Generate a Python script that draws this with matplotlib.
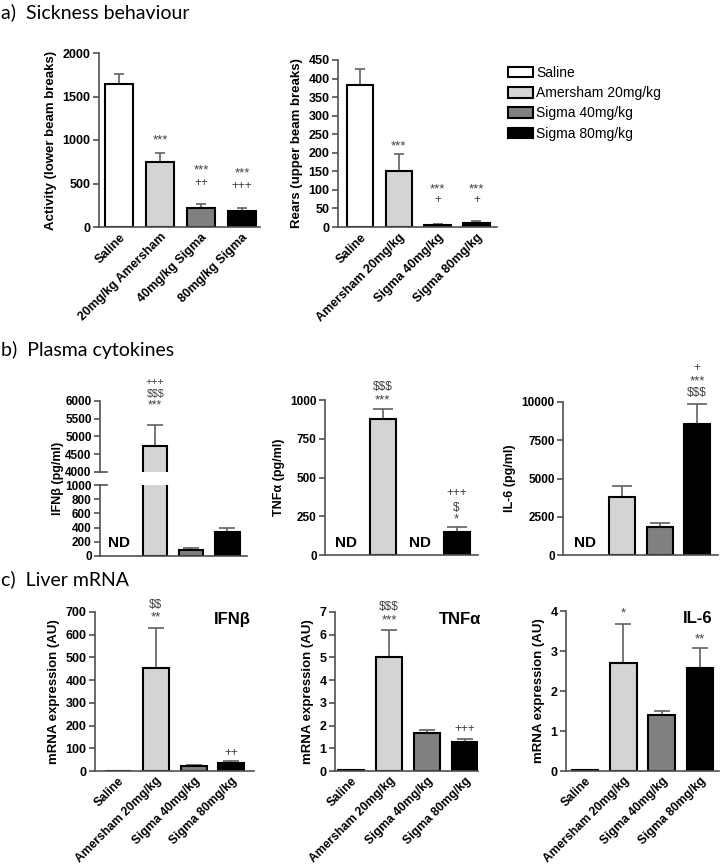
import numpy as np
import matplotlib
matplotlib.use("Agg")
import matplotlib.pyplot as plt
from matplotlib.patches import Patch

plt.rcParams['font.family'] = ['Liberation Sans', 'DejaVu Sans']
plt.rcParams['text.parse_math'] = False

W, H = 720, 866
groups = ['Saline', 'Amersham 20mg/kg', 'Sigma 40mg/kg', 'Sigma 80mg/kg']
groups_a1 = ['Saline', '20mg/kg Amersham', '40mg/kg Sigma', '80mg/kg Sigma']
colors = ['white', '#d4d4d4', '#808080', 'black']

# a) sickness behaviour
activity = [1645, 750, 219, 184]
activity_err = [118, 106, 42, 35]
rears = [382, 151, 6, 12]
rears_err = [45, 47, 3, 3]

# b) plasma cytokines (None = ND)
ifnb_plasma = [None, 4726, 85, 333]
ifnb_plasma_err = [0, 595, 23, 61]
tnfa_plasma = [None, 875, None, 150]
tnfa_plasma_err = [0, 67, 0, 33]
il6_plasma = [None, 3804, 1848, 8543]
il6_plasma_err = [0, 718, 261, 1348]

# c) liver mRNA
ifnb_mrna = [2, 454, 23, 37]
ifnb_mrna_err = [0, 176, 2, 7]
tnfa_mrna = [0.03, 5.02, 1.67, 1.26]
tnfa_mrna_err = [0, 1.17, 0.13, 0.16]
il6_mrna = [0.02, 2.69, 1.39, 2.58]
il6_mrna_err = [0, 0.99, 0.12, 0.5]

# significance marks: (group, y, text)
marks_activity = [(1, 1000, '***'), (2, 655, '***'), (2, 505, '++'), (3, 620, '***'), (3, 470, '+++')]
marks_rears = [(1, 218, '***'), (2, 102, '***'), (2, 73, '+'), (3, 102, '***'), (3, 73, '+')]
marks_ifnb_plasma = [(1, 6545, '+++'), (1, 6190, '$$$'), (1, 5870, '***')]
marks_tnfa_plasma = [(1, 1084, '$$$'), (1, 1000, '***'), (3, 400, '+++'), (3, 303, '$'), (3, 232, '*')]
marks_il6_plasma = [(3, 12222, '+'), (3, 11372, '***'), (3, 10588, '$$$')]
marks_ifnb_mrna = [(1, 731, '$$'), (1, 678, '**'), (3, 79, '++')]
marks_tnfa_mrna = [(1, 7.22, '$$$'), (1, 6.65, '***'), (3, 1.85, '+++')]
marks_il6_mrna = [(1, 3.93, '*'), (3, 3.3, '**')]

fig = plt.figure(figsize=(W / 100, H / 100), dpi=100)


def px_axes(l, t, r, b):
    return fig.add_axes([l / W, 1 - b / H, (r - l) / W, (b - t) / H])


def panel(ax, vals, errs, xlim, ylim, yticks, capsize, fs=9, width=0.68):
    x = np.arange(4)
    for i in range(4):
        if vals[i] is None:
            continue
        ax.bar(x[i], vals[i], width=width, color=colors[i], edgecolor='black',
               linewidth=1.5, zorder=2)
        if errs[i] > 0:
            top = vals[i] + errs[i]
            ax.vlines(x[i], vals[i], top, color='#606060', lw=1.2, zorder=1)
            ax.plot(x[i], top, marker='_', ms=capsize, mew=1.2, color='#606060',
                    zorder=1)
    ax.set_xlim(*xlim)
    ax.set_ylim(*ylim)
    ax.set_yticks(yticks)
    for s in ['top', 'right']:
        ax.spines[s].set_visible(False)
    for s in ['left', 'bottom']:
        ax.spines[s].set_color('#505050')
        ax.spines[s].set_linewidth(1.2)
    ax.tick_params(axis='y', length=4, width=1.2, color='#505050', labelsize=fs, pad=2)
    ax.tick_params(axis='x', length=0)
    for lab in ax.get_yticklabels():
        lab.set_fontweight('bold')
    ax.set_xticks(x)
    ax.set_xticklabels([])


def xlabels(ax, labels, fs=8.7, pad=3):
    ax.set_xticklabels(labels, rotation=45, ha='right', rotation_mode='anchor',
                       fontweight='bold', fontsize=fs)
    ax.tick_params(axis='x', pad=pad)


def add_marks(ax, marks, scale=1.0):
    for g, y, t in marks:
        fs = (9.5 if '*' in t else 8.5) * scale
        ax.text(g, y, t, ha='center', va='center', fontsize=fs, color='#404040',
                clip_on=False)


title_kw = dict(fontsize=14, family=['Lato', 'DejaVu Sans'], va='center', ha='left')
fig.text(1 / W, 1 - 12 / H, 'a)  Sickness behaviour', **title_kw)
fig.text(1 / W, 1 - 350 / H, 'b)  Plasma cytokines', **title_kw)
fig.text(1 / W, 1 - 579 / H, 'c)  Liver mRNA', **title_kw)

# a1
ax = px_axes(99, 53, 260, 227)
panel(ax, activity, activity_err, (-0.49, 3.44), (0, 2000), [0, 500, 1000, 1500, 2000], 6.5)
xlabels(ax, groups_a1, fs=9)
add_marks(ax, marks_activity)
ax.set_ylabel('Activity (lower beam breaks)', fontweight='bold', fontsize=9.5)

# a2
ax = px_axes(338, 60, 497, 227)
panel(ax, rears, rears_err, (-0.57, 3.53), (0, 450), range(0, 451, 50), 7)
xlabels(ax, groups, fs=9)
add_marks(ax, marks_rears)
ax.set_ylabel('Rears (upper beam breaks)', fontweight='bold', fontsize=9.5)

handles = [Patch(facecolor=c, edgecolor='black', linewidth=1.5) for c in colors]
fig.legend(handles, groups, loc='upper left', bbox_to_anchor=(508 / W, 1 - 66 / H),
           frameon=False, fontsize=10, handlelength=1.8, handleheight=0.8,
           labelspacing=0.45, handletextpad=0.25, borderaxespad=0, borderpad=0)

# b1 broken axis
ax_up = px_axes(100, 401, 247, 472)
panel(ax_up, ifnb_plasma, ifnb_plasma_err, (-0.53, 3.54), (4000, 6000),
      range(4000, 6001, 500), 12, fs=8.5, width=0.67)
ax_up.spines['bottom'].set_visible(False)
add_marks(ax_up, marks_ifnb_plasma, scale=0.9)
ax_lo = px_axes(100, 485, 247, 556)
panel(ax_lo, ifnb_plasma, ifnb_plasma_err, (-0.53, 3.54), (0, 1000),
      range(0, 1001, 200), 12, fs=8.5, width=0.67)
ax_lo.text(0, 183, 'ND', ha='center', va='center', fontsize=11, fontweight='bold')
fig.text(58 / W, 1 - 478 / H, 'IFN\u03b2 (pg/ml)', rotation=90, ha='center', va='center',
         fontsize=9, fontweight='bold')
for a, yy in [(ax_up, 4000), (ax_lo, 1000)]:
    a.plot([-0.53, -0.35], [yy, yy], color='#505050', lw=1.2, clip_on=False)

# b2
ax = px_axes(325, 400, 478, 555)
panel(ax, tnfa_plasma, tnfa_plasma_err, (-0.57, 3.58), (0, 1000), [0, 250, 500, 750, 1000],
      14, fs=8.5, width=0.7)
add_marks(ax, marks_tnfa_plasma)
for g in [0, 2]:
    ax.text(g, 77, 'ND', ha='center', va='center', fontsize=11, fontweight='bold')
ax.set_ylabel('TNF\u03b1 (pg/ml)', fontweight='bold', fontsize=9)

# b3
ax = px_axes(563, 402, 718, 555)
panel(ax, il6_plasma, il6_plasma_err, (-0.59, 3.56), (0, 10000),
      [0, 2500, 5000, 7500, 10000], 14, fs=8.5, width=0.7)
add_marks(ax, marks_il6_plasma)
ax.text(0, 784, 'ND', ha='center', va='center', fontsize=11, fontweight='bold')
ax.set_ylabel('IL-6 (pg/ml)', fontweight='bold', fontsize=9)

# c1
ax = px_axes(95, 612, 254, 771)
panel(ax, ifnb_mrna, ifnb_mrna_err, (-0.61, 3.6), (0, 700), range(0, 701, 100), 12, width=0.69)
xlabels(ax, groups)
add_marks(ax, marks_ifnb_mrna)
ax.set_ylabel('mRNA expression (AU)', fontweight='bold', fontsize=9.5)
ax.text(0.98, 1.0, 'IFN\u03b2', transform=ax.transAxes, ha='right', va='top',
        fontsize=12, fontweight='bold')

# c2
ax = px_axes(335, 612, 478, 771)
panel(ax, tnfa_mrna, tnfa_mrna_err, (-0.42, 3.34), (0, 7), range(0, 8), 12, width=0.69)
xlabels(ax, groups)
add_marks(ax, marks_tnfa_mrna)
ax.set_ylabel('mRNA expression (AU)', fontweight='bold', fontsize=9.5)
ax.text(1.02, 1.0, 'TNF\u03b1', transform=ax.transAxes, ha='right', va='top',
        fontsize=12, fontweight='bold')

# c3
ax = px_axes(566, 611, 719, 771)
panel(ax, il6_mrna, il6_mrna_err, (-0.5, 3.5), (0, 4), range(0, 5), 12, width=0.69)
xlabels(ax, groups)
add_marks(ax, marks_il6_mrna)
ax.set_ylabel('mRNA expression (AU)', fontweight='bold', fontsize=9.5)
ax.text(0.96, 1.0, 'IL-6', transform=ax.transAxes, ha='right', va='top',
        fontsize=12, fontweight='bold')

fig.savefig('out.png', dpi=100)
